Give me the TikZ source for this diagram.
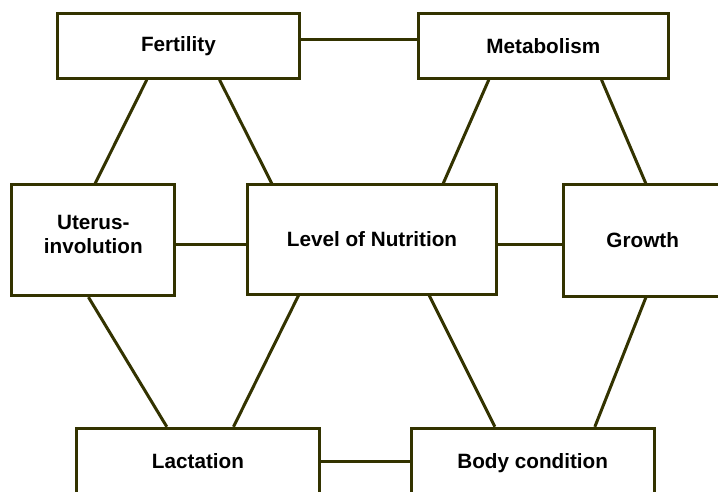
\documentclass[tikz,border=0pt]{standalone}
\usepackage{fontspec}
\setmainfont{Liberation Sans}
\definecolor{boxolive}{RGB}{51,51,0}
\begin{document}
\begin{tikzpicture}[x=1pt,y=-1pt,
  factor/.style={draw=boxolive,line width=3pt,fill=white,inner sep=0pt,
    font=\fontsize{20.7}{24.7}\selectfont\bfseries,align=center},
  link/.style={draw=boxolive,line width=3pt}]
\useasboundingbox (0,0) rectangle (718,492);
\clip (0,0) rectangle (718,492);
\node[factor,minimum width=241.8pt,minimum height=64.5pt] (fert) at (178.4,46) {Fertility};
\node[factor,minimum width=250pt,minimum height=64.5pt] (metab) at (543.3,46) {Metabolism};
\node[factor,minimum width=163.3pt,minimum height=110.7pt,text depth=12pt] (uter) at (93.3,240.3) {Uterus-\\involution};
\node[factor,minimum width=248.6pt,minimum height=109pt] (level) at (372,239.5) {Level of Nutrition};
\node[factor,minimum width=158.7pt,minimum height=111pt] (growth) at (642.7,240.5) {Growth};
\node[factor,minimum width=242.6pt,minimum height=68.7pt,text depth=4.3pt] (lact) at (198,462.65) {Lactation};
\node[factor,minimum width=242.7pt,minimum height=68.7pt,text depth=4.3pt] (body) at (532.7,462.65) {Body condition};
\draw[link] ([yshift=6.8pt]fert.east) -- ([yshift=6.8pt]metab.west);
\draw[link] ([yshift=-3.7pt]uter.east) -- ([yshift=-4.5pt]level.west);
\draw[link] ([yshift=-5pt]level.east) -- ([yshift=-4pt]growth.west);
\draw[link] ([yshift=1.65pt]lact.east) -- ([yshift=1.65pt]body.west);
\draw[link] ([xshift=90.8pt]fert.south west) -- ([xshift=85pt]uter.north west);
\draw[link] ([xshift=163.5pt]fert.south west) -- ([xshift=25.6pt]level.north west);
\draw[link] ([xshift=72pt]metab.south west) -- ([xshift=197pt]level.north west);
\draw[link] ([xshift=184.7pt]metab.south west) -- ([xshift=84pt]growth.north west);
\draw[link] ([xshift=78.3pt]uter.south west) -- ([xshift=91.6pt]lact.north west);
\draw[link] ([xshift=52.3pt]level.south west) -- ([xshift=158.3pt]lact.north west);
\draw[link] ([xshift=183pt]level.south west) -- ([xshift=85pt]body.north west);
\draw[link] ([xshift=84pt]growth.south west) -- ([xshift=185pt]body.north west);
\end{tikzpicture}
\end{document}
